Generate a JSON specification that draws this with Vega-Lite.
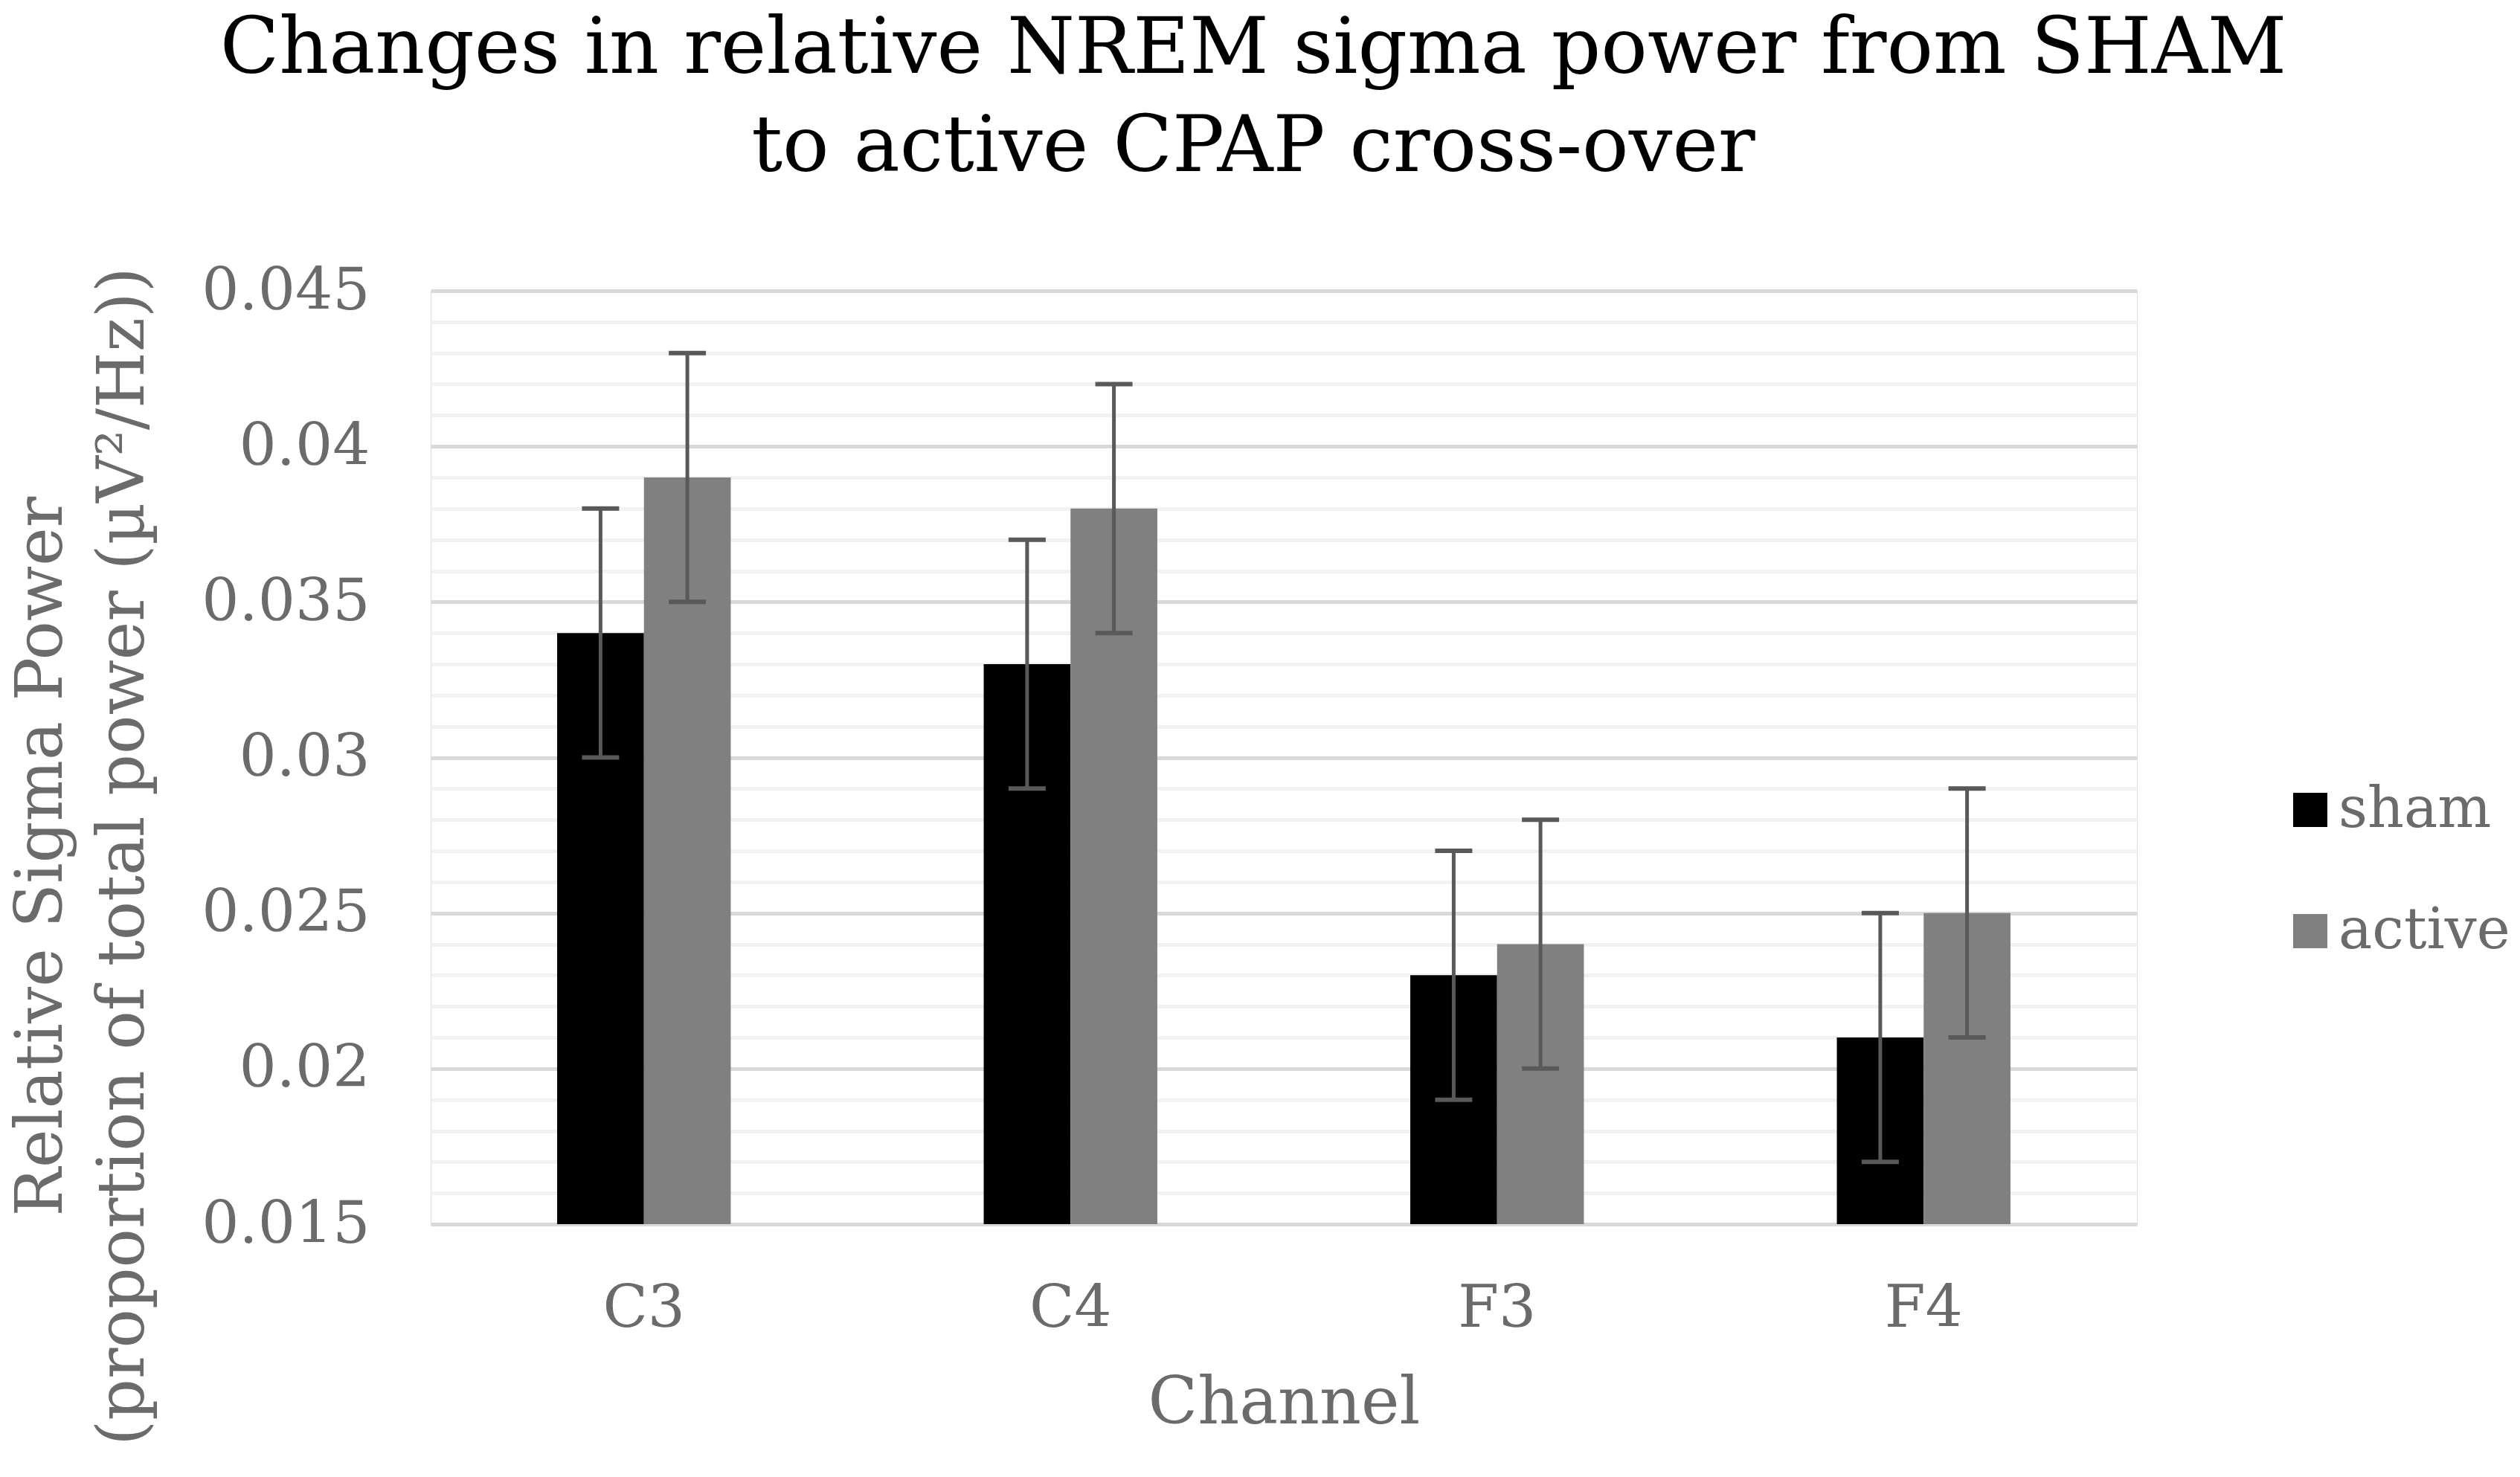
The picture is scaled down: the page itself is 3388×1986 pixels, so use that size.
{
  "$schema": "https://vega.github.io/schema/vega-lite/v6.json",
  "width": 2294,
  "height": 1255,
  "autosize": {"type": "none"},
  "padding": {"left": 579, "top": 391, "right": 515, "bottom": 340},
  "background": "white",
  "title": {
    "text": ["Changes in relative NREM sigma power from SHAM", "to active CPAP cross-over"],
    "font": "DejaVu Serif",
    "fontSize": 104,
    "fontWeight": "normal",
    "color": "#000000",
    "anchor": "middle",
    "frame": "group",
    "dx": -41,
    "offset": 100,
    "lineHeight": 132
  },
  "data": {
    "values": [
      {"channel": "C3", "condition": "sham", "power": 0.034, "lo": 0.030, "hi": 0.038},
      {"channel": "C3", "condition": "active", "power": 0.039, "lo": 0.035, "hi": 0.043},
      {"channel": "C4", "condition": "sham", "power": 0.033, "lo": 0.029, "hi": 0.037},
      {"channel": "C4", "condition": "active", "power": 0.038, "lo": 0.034, "hi": 0.042},
      {"channel": "F3", "condition": "sham", "power": 0.023, "lo": 0.019, "hi": 0.027},
      {"channel": "F3", "condition": "active", "power": 0.024, "lo": 0.020, "hi": 0.028},
      {"channel": "F4", "condition": "sham", "power": 0.021, "lo": 0.017, "hi": 0.025},
      {"channel": "F4", "condition": "active", "power": 0.025, "lo": 0.021, "hi": 0.029}
    ]
  },
  "encoding": {
    "x": {
      "field": "channel",
      "type": "nominal",
      "sort": ["C3", "C4", "F3", "F4"],
      "title": "Channel",
      "scale": {"paddingInner": 0.593, "paddingOuter": 0.2965},
      "axis": {
        "labelAngle": 0,
        "domain": false,
        "ticks": false,
        "grid": false,
        "labelPadding": 75,
        "labelLimit": 0,
        "labelFont": "DejaVu Serif",
        "labelFontSize": 79,
        "labelColor": "#6b6b6b",
        "titleFont": "DejaVu Serif",
        "titleFontSize": 87,
        "titleFontWeight": "normal",
        "titleColor": "#6b6b6b",
        "titlePadding": 45
      }
    },
    "xOffset": {
      "field": "condition",
      "type": "nominal",
      "sort": ["sham", "active"],
      "scale": {"paddingInner": 0, "paddingOuter": 0}
    }
  },
  "layer": [
    {
      "mark": {"type": "bar"},
      "encoding": {
        "y": {
          "field": "power",
          "type": "quantitative",
          "title": ["Relative Sigma Power", "(proportion of total power (µV²/Hz))"],
          "scale": {"domain": [0.015, 0.045], "zero": false, "nice": false},
          "axis": {
            "values": [0.015, 0.016, 0.017, 0.018, 0.019, 0.02, 0.021, 0.022, 0.023, 0.024, 0.025, 0.026, 0.027, 0.028, 0.029, 0.03, 0.031, 0.032, 0.033, 0.034, 0.035, 0.036, 0.037, 0.038, 0.039, 0.04, 0.041, 0.042, 0.043, 0.044, 0.045],
            "labelExpr": "round(datum.value * 1000) % 5 == 0 ? format(datum.value, '.3~f') : ''",
            "labelOverlap": false,
            "labelLimit": 0,
            "gridColor": {"condition": {"test": "round(datum.value * 1000) % 5 == 0", "value": "#d9d9d9"}, "value": "#f2f2f2"},
            "gridWidth": 5,
            "domain": false,
            "ticks": false,
            "labelPadding": 82,
            "labelFont": "DejaVu Serif",
            "labelFontSize": 79,
            "labelColor": "#6b6b6b",
            "titleFont": "DejaVu Serif",
            "titleFontSize": 87,
            "titleFontWeight": "normal",
            "titleColor": "#6b6b6b",
            "titleLineHeight": 110,
            "titleBaseline": "bottom",
            "titleX": -479,
            "titleY": 760
          }
        },
        "y2": {"datum": 0.015},
        "color": {
          "field": "condition",
          "type": "nominal",
          "sort": ["sham", "active"],
          "scale": {"domain": ["sham", "active"], "range": ["#000000", "#808080"]},
          "legend": {
            "orient": "none",
            "legendX": 2489,
            "legendY": 660,
            "title": null,
            "symbolType": "square",
            "symbolSize": 2116,
            "symbolStrokeWidth": 0,
            "symbolOpacity": 1,
            "labelFont": "DejaVu Serif",
            "labelFontSize": 76,
            "labelColor": "#6b6b6b",
            "labelLimit": 0,
            "labelOffset": 0,
            "rowPadding": 87,
            "padding": 0
          }
        }
      }
    },
    {
      "mark": {"type": "rule", "color": "#595959", "strokeWidth": 5},
      "encoding": {
        "y": {"field": "lo", "type": "quantitative", "title": ["Relative Sigma Power", "(proportion of total power (µV²/Hz))"]},
        "y2": {"field": "hi"}
      }
    },
    {
      "mark": {"type": "tick", "color": "#595959", "thickness": 6, "size": 50, "opacity": 1},
      "encoding": {
        "y": {"field": "lo", "type": "quantitative", "title": ["Relative Sigma Power", "(proportion of total power (µV²/Hz))"]}
      }
    },
    {
      "mark": {"type": "tick", "color": "#595959", "thickness": 6, "size": 50, "opacity": 1},
      "encoding": {
        "y": {"field": "hi", "type": "quantitative", "title": ["Relative Sigma Power", "(proportion of total power (µV²/Hz))"]}
      }
    }
  ]
}
